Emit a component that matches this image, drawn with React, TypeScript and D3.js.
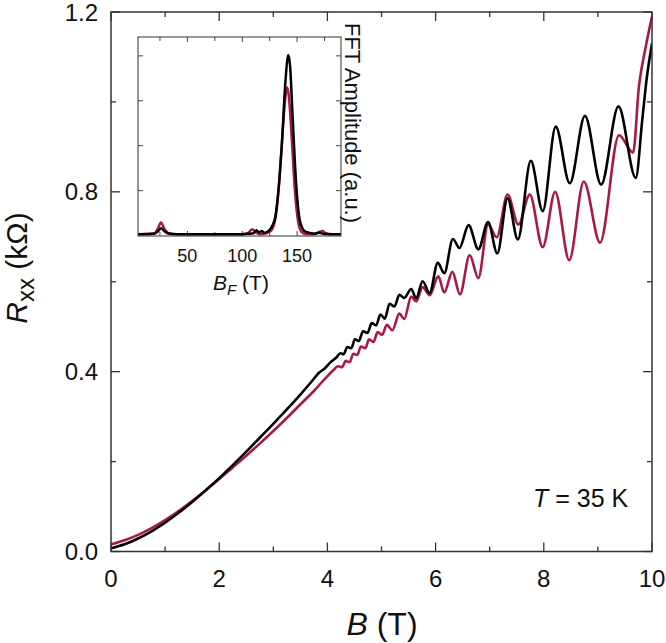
import React from "react";
import * as d3 from "d3";

// ---------- Main panel data (B in T, Rxx in kΩ) ----------
const blackB = [0, 0.25, 0.5, 0.75, 1.0, 1.25, 1.5, 1.75, 2.0, 2.25, 2.5, 2.75, 3.0, 3.25, 3.5, 3.7, 3.85, 3.95, 4.05, 4.17, 4.24, 4.3, 4.37, 4.44, 4.51, 4.58, 4.66, 4.74, 4.82, 4.9, 4.98, 5.06, 5.15, 5.24, 5.33, 5.42, 5.55, 5.64, 5.76, 5.89, 6.04, 6.16, 6.32, 6.44, 6.61, 6.79, 6.97, 7.14, 7.33, 7.52, 7.76, 7.98, 8.22, 8.48, 8.76, 9.06, 9.38, 9.7, 9.82, 9.9, 10.0];
const blackR = [0.007, 0.016, 0.029, 0.045, 0.064, 0.086, 0.11, 0.136, 0.163, 0.192, 0.222, 0.253, 0.284, 0.316, 0.349, 0.377, 0.398, 0.407, 0.42, 0.432, 0.441, 0.439, 0.455, 0.452, 0.472, 0.468, 0.49, 0.486, 0.508, 0.503, 0.527, 0.518, 0.551, 0.545, 0.571, 0.564, 0.584, 0.563, 0.601, 0.575, 0.642, 0.619, 0.695, 0.675, 0.726, 0.672, 0.733, 0.663, 0.786, 0.694, 0.869, 0.757, 0.945, 0.819, 0.969, 0.816, 0.99, 0.831, 0.96, 1.05, 1.13];

const redB = [0, 0.25, 0.5, 0.75, 1.0, 1.25, 1.5, 1.75, 2.0, 2.25, 2.5, 2.75, 3.0, 3.25, 3.5, 3.75, 4.0, 4.1, 4.2, 4.27, 4.34, 4.41, 4.48, 4.55, 4.62, 4.7, 4.77, 4.85, 4.93, 5.01, 5.1, 5.2, 5.33, 5.42, 5.55, 5.64, 5.76, 5.89, 6.05, 6.16, 6.31, 6.45, 6.63, 6.79, 6.97, 7.13, 7.33, 7.53, 7.74, 7.98, 8.21, 8.47, 8.74, 9.04, 9.39, 9.65, 9.76, 9.88, 10.0];
const redR = [0.016, 0.025, 0.037, 0.052, 0.07, 0.09, 0.112, 0.136, 0.161, 0.187, 0.213, 0.24, 0.268, 0.297, 0.327, 0.357, 0.39, 0.402, 0.412, 0.41, 0.424, 0.421, 0.44, 0.437, 0.456, 0.452, 0.472, 0.466, 0.488, 0.482, 0.504, 0.492, 0.529, 0.517, 0.567, 0.556, 0.588, 0.57, 0.612, 0.576, 0.622, 0.572, 0.659, 0.608, 0.727, 0.699, 0.794, 0.727, 0.794, 0.677, 0.8, 0.648, 0.823, 0.687, 0.926, 0.887, 1.036, 1.12, 1.19];

const xMajorTicks = [0, 2, 4, 6, 8, 10];
const xMinorTicks = [1, 3, 5, 7, 9];
const yMajorTicks = [0, 0.4, 0.8, 1.2];
const yMinorTicks = [0.2, 0.6, 1.0];

// ---------- Inset data (FFT amplitude, a.u.) ----------
const fftBlackF = [5, 15, 20, 23, 26, 29, 32, 40, 60, 80, 100, 106, 110, 113, 115, 118, 120, 124, 127, 130, 133, 136, 139, 141, 142, 143.5, 146, 149, 152, 155, 158, 162, 166, 170, 174, 180, 190];
const fftBlackA = [0.03, 0.03, 0.04, 0.09, 0.16, 0.1, 0.05, 0.03, 0.03, 0.03, 0.03, 0.04, 0.05, 0.12, 0.07, 0.1, 0.06, 0.1, 0.2, 0.4, 1.0, 2.0, 3.3, 3.9, 4.02, 3.8, 2.6, 1.2, 0.4, 0.15, 0.08, 0.06, 0.04, 0.06, 0.04, 0.03, 0.03];
const fftRedF = [5, 20, 23, 26, 29, 33, 40, 100, 105, 109, 112, 116, 120, 126, 130, 133, 136, 139, 141, 142.5, 145, 148, 151, 154, 158, 165, 170, 173, 176, 182, 190];
const fftRedA = [0.03, 0.05, 0.15, 0.29, 0.15, 0.05, 0.03, 0.03, 0.05, 0.14, 0.08, 0.03, 0.04, 0.1, 0.35, 1.0, 2.0, 3.0, 3.3, 3.1, 2.2, 1.0, 0.3, 0.08, 0.03, 0.03, 0.08, 0.1, 0.05, 0.03, 0.03];

const insetXMajor = [50, 100, 150];
const insetXMinor = [25, 75, 125, 175];
const insetYTicks = [1, 2, 3, 4];

const RED = "#a8194b";
const FONT = "'Liberation Sans', Arial, Helvetica, sans-serif";

type Pt = [number, number];
const zip = (a: number[], b: number[]): Pt[] => a.map((v, i) => [v, b[i]]);

export default function App() {
  const x = d3.scaleLinear().domain([0, 10]).range([111, 652]);
  const y = d3.scaleLinear().domain([0, 1.2]).range([551.5, 12]);
  const xi = d3.scaleLinear().domain([5, 190]).range([138, 341]);
  const yi = d3.scaleLinear().domain([-0.01, 4.42]).range([236, 37]);

  const mainLine = d3
    .line<Pt>()
    .x((d) => x(d[0]))
    .y((d) => y(d[1]))
    .curve(d3.curveMonotoneX);
  const insetLine = d3
    .line<Pt>()
    .x((d) => xi(d[0]))
    .y((d) => yi(d[1]))
    .curve(d3.curveMonotoneX);

  const [x0, x1] = x.range();
  const [yb, yt] = y.range();
  const [ix0, ix1] = xi.range();
  const [iyb, iyt] = yi.range();

  const axisColor = "#333";

  return (
    <div style={{ position: "absolute", left: 0, top: 0 }}>
      <svg width={666} height={643} style={{ display: "block", background: "#fff" }} fontFamily={FONT}>
        <defs>
          <clipPath id="mainClip">
            <rect x={x0} y={yt - 2} width={x1 - x0} height={yb - yt + 2} />
          </clipPath>
          <clipPath id="insetClip">
            <rect x={ix0} y={iyt} width={ix1 - ix0} height={iyb - iyt} />
          </clipPath>
        </defs>

        {/* main ticks */}
        <g stroke={axisColor} strokeWidth={1.3}>
          {xMajorTicks.map((t) => (
            <g key={"xM" + t}>
              <line x1={x(t)} x2={x(t)} y1={yb} y2={yb - 9} />
              <line x1={x(t)} x2={x(t)} y1={yt} y2={yt + 9} />
            </g>
          ))}
          {xMinorTicks.map((t) => (
            <g key={"xm" + t}>
              <line x1={x(t)} x2={x(t)} y1={yb} y2={yb - 5} />
              <line x1={x(t)} x2={x(t)} y1={yt} y2={yt + 5} />
            </g>
          ))}
          {yMajorTicks.map((t) => (
            <g key={"yM" + t}>
              <line x1={x0} x2={x0 + 9} y1={y(t)} y2={y(t)} />
              <line x1={x1} x2={x1 - 9} y1={y(t)} y2={y(t)} />
            </g>
          ))}
          {yMinorTicks.map((t) => (
            <g key={"ym" + t}>
              <line x1={x0} x2={x0 + 5} y1={y(t)} y2={y(t)} />
              <line x1={x1} x2={x1 - 5} y1={y(t)} y2={y(t)} />
            </g>
          ))}
        </g>

        {/* main curves */}
        <g clipPath="url(#mainClip)" fill="none" strokeWidth={2.6} strokeLinejoin="round">
          <path d={mainLine(zip(redB, redR)) || ""} stroke={RED} />
          <path d={mainLine(zip(blackB, blackR)) || ""} stroke="#000" />
        </g>

        <rect x={x0} y={yt} width={x1 - x0} height={yb - yt} fill="none" stroke={axisColor} strokeWidth={1.5} />

        {/* main tick labels */}
        <g fontSize={24} fill="#111">
          {xMajorTicks.map((t) => (
            <text key={"xl" + t} x={x(t)} y={587} textAnchor="middle">
              {t}
            </text>
          ))}
          {yMajorTicks.map((t) => (
            <text key={"yl" + t} x={98} y={y(t)} dy="0.36em" textAnchor="end">
              {t.toFixed(1)}
            </text>
          ))}
        </g>

        {/* axis titles */}
        <text x={382} y={635} fontSize={32} textAnchor="middle" fill="#111">
          <tspan fontStyle="italic">B</tspan>
          <tspan> (T)</tspan>
        </text>
        <text transform="translate(27,268) rotate(-90)" fontSize={30} textAnchor="middle" fill="#111">
          <tspan fontStyle="italic">R</tspan>
          <tspan fontSize={24} dy={7}>xx</tspan>
          <tspan dy={-7}> (kΩ)</tspan>
        </text>

        <text x={533} y={507} fontSize={25} fill="#111">
          <tspan fontStyle="italic">T</tspan>
          <tspan> = 35 K</tspan>
        </text>

        {/* inset */}
        <rect x={ix0} y={iyt} width={ix1 - ix0} height={iyb - iyt} fill="#fff" />
        <g stroke="#444" strokeWidth={1}>
          {insetXMajor.map((t) => (
            <g key={"ixM" + t}>
              <line x1={xi(t)} x2={xi(t)} y1={iyb} y2={iyb - 5} />
              <line x1={xi(t)} x2={xi(t)} y1={iyt} y2={iyt + 5} />
            </g>
          ))}
          {insetXMinor.map((t) => (
            <g key={"ixm" + t}>
              <line x1={xi(t)} x2={xi(t)} y1={iyb} y2={iyb - 4} />
              <line x1={xi(t)} x2={xi(t)} y1={iyt} y2={iyt + 4} />
            </g>
          ))}
          {insetYTicks.map((t) => (
            <g key={"iy" + t}>
              <line x1={ix0} x2={ix0 + 5} y1={yi(t)} y2={yi(t)} />
              <line x1={ix1} x2={ix1 - 5} y1={yi(t)} y2={yi(t)} />
            </g>
          ))}
        </g>
        <g clipPath="url(#insetClip)" fill="none" strokeWidth={2.5} strokeLinejoin="round">
          <path d={insetLine(zip(fftRedF, fftRedA)) || ""} stroke={RED} />
          <path d={insetLine(zip(fftBlackF, fftBlackA)) || ""} stroke="#000" />
        </g>
        <rect x={ix0} y={iyt} width={ix1 - ix0} height={iyb - iyt} fill="none" stroke="#444" strokeWidth={1.1} />

        <g fontSize={18} fill="#111">
          {insetXMajor.map((t) => (
            <text key={"ixl" + t} x={xi(t)} y={262} textAnchor="middle">
              {t}
            </text>
          ))}
        </g>
        <text x={241} y={290} fontSize={21} textAnchor="middle" fill="#111">
          <tspan fontStyle="italic">B</tspan>
          <tspan fontStyle="italic" fontSize={15} dy={5}>F</tspan>
          <tspan dy={-5}> (T)</tspan>
        </text>
        <text transform="translate(345,123) rotate(90)" fontSize={22} textAnchor="middle" fill="#111">
          FFT Amplitude (a.u.)
        </text>
      </svg>
    </div>
  );
}
